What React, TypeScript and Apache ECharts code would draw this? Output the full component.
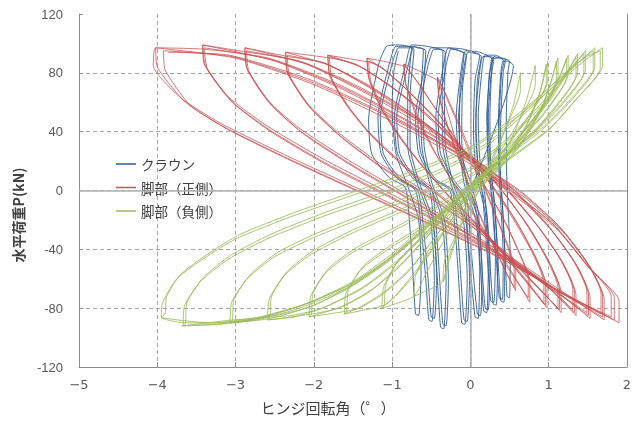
import React, { useEffect, useRef } from 'react';
import * as echarts from 'echarts';

type Pt = [number, number];

const seriesNames = ['クラウン', '脚部（正側）', '脚部（負側）'];
const xAxisTitle = 'ヒンジ回転角（゜）';
const yAxisTitle = '水平荷重P(kN)';
const xRange = [-5, 2];
const yRange = [-120, 120];

// ---- クラウン (crown) loops ----
const blueLoop1: Pt[] = [[0, 0], [0.3, 40], [0.55, 85], [0.48, 88], [0.42, 88], [0.39, 80], [0.36, 50], [0.37, 20], [0.41, -10], [0.44, -40], [0.47, -72], [0.5, -73], [0.51, -45], [0.48, -10], [0.46, 20], [0.46, 50], [0.48, 80], [0.5, 88]];
const blueLoop2a: Pt[] = [[0.4, 90], [0.3, 91], [0.27, 82], [0.23, 50], [0.25, 20], [0.31, -10], [0.35, -45], [0.39, -75], [0.43, -76], [0.44, -45], [0.41, -10], [0.38, 20], [0.39, 50], [0.42, 80], [0.45, 89]];
const blueLoop2b: Pt[] = [[0.36, 90], [0.28, 90], [0.25, 81], [0.21, 50], [0.23, 20], [0.29, -10], [0.33, -45], [0.37, -73], [0.41, -74], [0.42, -45], [0.39, -10], [0.36, 20], [0.37, 50], [0.4, 80], [0.43, 88]];
const blueLoop3a: Pt[] = [[0.32, 92], [0.19, 92], [0.15, 82], [0.1, 50], [0.12, 22], [0.19, -5], [0.24, -40], [0.29, -77], [0.33, -78], [0.35, -45], [0.31, -10], [0.26, 18], [0.25, 50], [0.27, 78], [0.3, 90]];
const blueLoop3b: Pt[] = [[0.25, 91], [0.16, 91], [0.12, 81], [0.07, 50], [0.09, 22], [0.16, -5], [0.21, -40], [0.26, -75], [0.3, -76], [0.32, -45], [0.28, -10], [0.23, 18], [0.22, 50], [0.24, 78], [0.28, 89]];
const blueLoop4a: Pt[] = [[0.12, 94], [-0.06, 95], [-0.11, 85], [-0.18, 50], [-0.15, 25], [-0.03, 5], [0.08, -15], [0.12, -45], [0.17, -82], [0.21, -83], [0.23, -50], [0.19, -15], [0.08, 10], [0.04, 40], [0.06, 75], [0.12, 92]];
const blueLoop4b: Pt[] = [[0.08, 93], [-0.03, 94], [-0.08, 84], [-0.15, 50], [-0.12, 25], [0, 6], [0.1, -14], [0.14, -45], [0.19, -80], [0.23, -81], [0.25, -50], [0.21, -15], [0.11, 10], [0.07, 40], [0.09, 75], [0.14, 91]];
const blueLoop5a: Pt[] = [[-0.08, 96], [-0.28, 97], [-0.34, 86], [-0.44, 50], [-0.41, 25], [-0.25, 8], [-0.08, -5], [-0.02, -40], [0.06, -86], [0.1, -87], [0.12, -55], [0.07, -20], [-0.08, 5], [-0.14, 35], [-0.13, 70], [-0.08, 93]];
const blueLoop5b: Pt[] = [[-0.22, 96], [-0.25, 96], [-0.31, 85], [-0.41, 50], [-0.38, 25], [-0.22, 8], [-0.05, -5], [0.01, -40], [0.09, -84], [0.13, -85], [0.15, -55], [0.1, -20], [-0.05, 5], [-0.11, 35], [-0.1, 70], [-0.05, 92]];
const blueLoop6a: Pt[] = [[-0.3, 97], [-0.5, 97], [-0.57, 86], [-0.7, 50], [-0.66, 25], [-0.48, 8], [-0.26, 0], [-0.19, -30], [-0.15, -60], [-0.11, -90], [-0.07, -91], [-0.04, -60], [-0.09, -20], [-0.25, 5], [-0.35, 30], [-0.36, 65], [-0.35, 95]];
const blueLoop6b: Pt[] = [[-0.45, 96], [-0.47, 96], [-0.54, 85], [-0.67, 50], [-0.63, 25], [-0.45, 8], [-0.23, 0], [-0.16, -30], [-0.12, -60], [-0.08, -88], [-0.04, -89], [-0.01, -60], [-0.06, -20], [-0.22, 5], [-0.32, 30], [-0.33, 65], [-0.32, 94]];
const blueLoop7a: Pt[] = [[-0.55, 98], [-0.75, 99], [-0.82, 87], [-0.97, 50], [-0.93, 25], [-0.73, 8], [-0.52, 0], [-0.46, -30], [-0.42, -62], [-0.38, -93], [-0.34, -94], [-0.31, -62], [-0.36, -20], [-0.52, 5], [-0.62, 30], [-0.63, 65], [-0.6, 96]];
const blueLoop7b: Pt[] = [[-0.68, 97], [-0.72, 98], [-0.79, 86], [-0.94, 50], [-0.9, 25], [-0.7, 8], [-0.49, 0], [-0.43, -30], [-0.39, -62], [-0.35, -91], [-0.31, -92], [-0.28, -62], [-0.33, -20], [-0.49, 5], [-0.59, 30], [-0.6, 65], [-0.57, 95]];
const blueLoop8a: Pt[] = [[-0.78, 98], [-0.95, 98], [-1.03, 87], [-1.18, 50], [-1.14, 25], [-0.93, 8], [-0.7, 0], [-0.62, -30], [-0.57, -60], [-0.53, -88], [-0.49, -89], [-0.46, -60], [-0.51, -20], [-0.68, 5], [-0.8, 30], [-0.8, 65], [-0.75, 97]];
const blueLoop8b: Pt[] = [[-0.9, 97], [-0.92, 97], [-1.0, 86], [-1.15, 50], [-1.11, 25], [-0.9, 8], [-0.67, 0], [-0.59, -30], [-0.54, -60], [-0.5, -86], [-0.46, -87], [-0.43, -60], [-0.48, -20], [-0.65, 5], [-0.77, 30], [-0.77, 65], [-0.72, 96]];
const blueLoop9: Pt[] = [[-0.92, 99], [-1.07, 98], [-1.17, 86], [-1.3, 48], [-1.26, 25], [-1.04, 9], [-0.83, 2], [-0.78, -20], [-0.74, -50], [-0.7, -84], [-0.66, -85], [-0.63, -55], [-0.66, -20], [-0.8, 3], [-0.95, 25], [-1.0, 55], [-0.98, 80], [-0.92, 95]];

// ---- 脚部（正側） loops ----
const redLoop1a: Pt[] = [[0, 0], [-0.42, 77], [-0.4, 64], [-0.3, 45], [-0.15, 22], [0, 0], [0.15, -20], [0.3, -38], [0.45, -55], [0.58, -68], [0.58, -55], [0.5, -40], [0.35, -20], [0.2, 0], [0.05, 20], [-0.1, 40], [-0.25, 58], [-0.35, 70], [-0.42, 77]];
const redLoop1b: Pt[] = [[-0.4, 64], [-0.28, 42], [-0.12, 18], [0.02, -3], [0.18, -24], [0.34, -42], [0.48, -58], [0.56, -66], [0.56, -54], [0.46, -36], [0.3, -14], [0.14, 6], [0, 24], [-0.14, 43], [-0.28, 60], [-0.4, 74]];
const redLoop2a: Pt[] = [[-0.85, 86], [-0.83, 73], [-0.7, 52], [-0.5, 30], [-0.25, 8], [0, -12], [0.25, -33], [0.5, -53], [0.76, -76], [0.76, -62], [0.65, -45], [0.45, -22], [0.2, 2], [-0.1, 28], [-0.4, 52], [-0.65, 72], [-0.85, 86]];
const redLoop2b: Pt[] = [[-0.82, 72], [-0.66, 49], [-0.46, 27], [-0.22, 5], [0.02, -15], [0.28, -36], [0.52, -56], [0.74, -73], [0.74, -60], [0.62, -42], [0.42, -19], [0.16, 5], [-0.14, 31], [-0.44, 55], [-0.68, 74], [-0.83, 84]];
const redLoop3a: Pt[] = [[-1.32, 90], [-1.3, 77], [-1.15, 57], [-0.9, 36], [-0.6, 16], [-0.3, -2], [0, -18], [0.35, -38], [0.7, -60], [0.98, -80], [0.98, -66], [0.85, -47], [0.6, -22], [0.3, 2], [0, 22], [-0.4, 46], [-0.8, 68], [-1.1, 82], [-1.32, 90]];
const redLoop3b: Pt[] = [[-1.29, 75], [-1.12, 54], [-0.86, 33], [-0.56, 13], [-0.26, -5], [0.04, -21], [0.38, -41], [0.72, -62], [0.96, -78], [0.96, -64], [0.82, -44], [0.56, -19], [0.26, 5], [-0.04, 25], [-0.44, 49], [-0.84, 70], [-1.12, 83], [-1.3, 88]];
const redLoop3c: Pt[] = [[-1.27, 74], [-1.08, 52], [-0.82, 31], [-0.52, 11], [-0.22, -7], [0.08, -23], [0.42, -43], [0.74, -64], [0.94, -77], [0.94, -63], [0.79, -42], [0.52, -17], [0.22, 7], [-0.08, 27], [-0.48, 51], [-0.88, 72], [-1.14, 84], [-1.28, 87]];
const redLoop4a: Pt[] = [[-1.82, 92], [-1.8, 79], [-1.6, 60], [-1.3, 40], [-0.9, 20], [-0.45, 0], [0, -20], [0.4, -40], [0.8, -62], [1.16, -83], [1.16, -69], [1.02, -50], [0.75, -25], [0.4, 0], [0, 22], [-0.5, 48], [-1.0, 70], [-1.4, 84], [-1.82, 92]];
const redLoop4b: Pt[] = [[-1.79, 77], [-1.57, 57], [-1.26, 37], [-0.86, 17], [-0.41, -3], [0.04, -23], [0.44, -43], [0.84, -65], [1.14, -81], [1.14, -67], [0.99, -47], [0.71, -22], [0.36, 3], [-0.04, 25], [-0.54, 51], [-1.04, 72], [-1.44, 85], [-1.8, 91]];
const redLoop4c: Pt[] = [[-1.77, 76], [-1.53, 55], [-1.22, 35], [-0.82, 15], [-0.37, -5], [0.08, -25], [0.48, -45], [0.87, -66], [1.12, -80], [1.12, -66], [0.96, -45], [0.68, -20], [0.33, 5], [-0.08, 27], [-0.58, 53], [-1.08, 73], [-1.47, 86], [-1.78, 90]];
const redLoop5a: Pt[] = [[-2.36, 94], [-2.34, 81], [-2.1, 60], [-1.7, 40], [-1.2, 20], [-0.6, 0], [0, -22], [0.5, -44], [1.0, -66], [1.35, -85], [1.35, -71], [1.2, -51], [0.9, -27], [0.5, -2], [0, 20], [-0.6, 45], [-1.2, 67], [-1.8, 85], [-2.36, 94]];
const redLoop5b: Pt[] = [[-2.33, 79], [-2.06, 57], [-1.66, 37], [-1.16, 17], [-0.56, -3], [0.04, -25], [0.54, -47], [1.04, -68], [1.33, -83], [1.33, -69], [1.17, -48], [0.86, -24], [0.46, 1], [-0.04, 23], [-0.64, 48], [-1.24, 69], [-1.84, 86], [-2.34, 92]];
const redLoop5c: Pt[] = [[-2.31, 78], [-2.02, 55], [-1.62, 35], [-1.12, 15], [-0.52, -5], [0.08, -27], [0.58, -49], [1.07, -69], [1.31, -81], [1.31, -67], [1.14, -46], [0.83, -22], [0.43, 3], [-0.08, 25], [-0.68, 50], [-1.28, 71], [-1.88, 87], [-2.32, 91]];
const redLoop6a: Pt[] = [[-2.88, 97], [-2.86, 84], [-2.6, 62], [-2.2, 43], [-1.6, 22], [-0.9, 0], [-0.2, -22], [0.4, -42], [1.0, -64], [1.53, -87], [1.53, -73], [1.38, -53], [1.05, -28], [0.6, -3], [0, 22], [-0.7, 47], [-1.4, 68], [-2.1, 86], [-2.88, 97]];
const redLoop6b: Pt[] = [[-2.85, 82], [-2.56, 59], [-2.16, 40], [-1.56, 19], [-0.86, -3], [-0.16, -25], [0.44, -45], [1.04, -67], [1.51, -85], [1.51, -71], [1.35, -50], [1.01, -25], [0.56, 0], [-0.04, 25], [-0.74, 50], [-1.44, 70], [-2.14, 87], [-2.86, 95]];
const redLoop6c: Pt[] = [[-2.83, 81], [-2.52, 57], [-2.12, 38], [-1.52, 17], [-0.82, -5], [-0.12, -27], [0.48, -47], [1.07, -68], [1.49, -83], [1.49, -69], [1.32, -48], [0.98, -23], [0.53, 2], [-0.08, 27], [-0.78, 52], [-1.48, 72], [-2.18, 88], [-2.84, 94]];
const redLoop7a: Pt[] = [[-3.42, 99], [-3.4, 86], [-3.1, 64], [-2.6, 44], [-1.9, 22], [-1.1, 0], [-0.3, -22], [0.5, -45], [1.1, -66], [1.71, -88], [1.71, -74], [1.55, -54], [1.2, -29], [0.7, -5], [0, 20], [-0.8, 45], [-1.6, 68], [-2.5, 88], [-3.42, 99]];
const redLoop7b: Pt[] = [[-3.38, 84], [-3.06, 61], [-2.56, 41], [-1.86, 19], [-1.06, -3], [-0.26, -25], [0.54, -48], [1.14, -69], [1.69, -86], [1.69, -72], [1.52, -51], [1.16, -26], [0.66, -2], [-0.04, 23], [-0.84, 48], [-1.64, 70], [-2.54, 89], [-3.4, 97]];
const redLoop7c: Pt[] = [[-3.36, 83], [-3.02, 59], [-2.52, 39], [-1.82, 17], [-1.02, -5], [-0.22, -27], [0.58, -50], [1.17, -70], [1.67, -84], [1.67, -70], [1.49, -49], [1.13, -24], [0.63, 0], [-0.08, 25], [-0.88, 50], [-1.68, 72], [-2.58, 90], [-3.38, 96]];
const redLoop8a: Pt[] = [[-4.02, 97], [-4.05, 85], [-3.7, 63], [-3.2, 46], [-2.4, 25], [-1.5, 3], [-0.6, -19], [0.3, -42], [1.1, -67], [1.9, -90], [1.9, -75], [1.54, -54], [1.12, -27], [0.6, -5], [0, 18], [-1.0, 47], [-2.0, 72], [-3.0, 90], [-4.02, 97]];
const redLoop8b: Pt[] = [[-4.0, 84], [-3.64, 60], [-3.14, 43], [-2.34, 22], [-1.44, 0], [-0.54, -22], [0.36, -45], [1.14, -69], [1.84, -88], [1.84, -73], [1.5, -51], [1.08, -24], [0.56, -2], [-0.04, 21], [-1.04, 50], [-2.04, 74], [-3.04, 91], [-3.92, 95]];
const redLoop8c: Pt[] = [[-3.9, 82], [-3.58, 58], [-3.08, 41], [-2.28, 20], [-1.38, -2], [-0.48, -24], [0.42, -47], [1.18, -70], [1.8, -86], [1.8, -72], [1.46, -49], [1.04, -22], [0.52, 0], [-0.08, 23], [-1.08, 52], [-2.08, 76], [-3.08, 92], [-3.86, 94]];

// ---- 脚部（負側） loops ----
const greenLoop1: Pt[] = [[0, 0], [-0.35, -62], [-0.33, -48], [-0.18, -30], [0, -12], [0.2, 10], [0.4, 35], [0.55, 58], [0.64, 80], [0.64, 68], [0.48, 46], [0.28, 22], [0.08, 0], [-0.12, -24], [-0.28, -46], [-0.35, -62]];
const greenLoop2: Pt[] = [[-0.72, -72], [-0.7, -58], [-0.55, -42], [-0.3, -25], [0, -8], [0.3, 14], [0.55, 38], [0.72, 62], [0.83, 85], [0.83, 72], [0.65, 50], [0.4, 28], [0.12, 6], [-0.15, -16], [-0.4, -40], [-0.6, -60], [-0.72, -72]];
const greenLoop3a: Pt[] = [[-1.13, -80], [-1.11, -66], [-0.95, -50], [-0.65, -34], [-0.3, -18], [0.05, -2], [0.4, 18], [0.7, 42], [0.88, 65], [0.99, 88], [0.99, 75], [0.8, 55], [0.5, 33], [0.2, 12], [-0.1, -8], [-0.4, -33], [-0.7, -55], [-0.95, -71], [-1.13, -80]];
const greenLoop3b: Pt[] = [[-1.1, -78], [-1.08, -64], [-0.91, -47], [-0.61, -31], [-0.26, -15], [0.09, 2], [0.43, 21], [0.72, 45], [0.89, 67], [0.97, 86], [0.97, 73], [0.77, 52], [0.47, 30], [0.17, 9], [-0.13, -11], [-0.43, -36], [-0.72, -58], [-0.96, -72], [-1.1, -78]];
const greenLoop4a: Pt[] = [[-1.61, -84], [-1.59, -70], [-1.4, -54], [-1.05, -40], [-0.6, -25], [-0.15, -8], [0.25, 8], [0.6, 28], [0.88, 52], [1.02, 72], [1.12, 90], [1.12, 77], [0.9, 56], [0.6, 35], [0.25, 14], [-0.05, -3], [-0.4, -28], [-0.75, -52], [-1.1, -69], [-1.4, -79], [-1.61, -84]];
const greenLoop4b: Pt[] = [[-1.58, -82], [-1.56, -68], [-1.36, -51], [-1.01, -37], [-0.56, -22], [-0.11, -5], [0.29, 11], [0.63, 31], [0.9, 55], [1.03, 74], [1.1, 88], [1.1, 75], [0.87, 53], [0.56, 32], [0.21, 11], [-0.09, -6], [-0.44, -31], [-0.79, -55], [-1.13, -71], [-1.42, -80], [-1.58, -82]];
const greenLoop5a: Pt[] = [[-2.06, -86], [-2.04, -72], [-1.85, -56], [-1.5, -42], [-1.0, -28], [-0.45, -12], [0, 2], [0.4, 20], [0.75, 42], [1.02, 63], [1.15, 78], [1.25, 92], [1.25, 79], [1.0, 57], [0.7, 38], [0.3, 17], [-0.05, 0], [-0.45, -25], [-0.85, -48], [-1.25, -67], [-1.65, -79], [-2.06, -86]];
const greenLoop5b: Pt[] = [[-2.03, -84], [-2.01, -70], [-1.81, -53], [-1.46, -39], [-0.96, -25], [-0.41, -9], [0.04, 5], [0.44, 23], [0.78, 45], [1.04, 66], [1.16, 80], [1.23, 90], [1.23, 77], [0.97, 54], [0.66, 35], [0.26, 14], [-0.09, -3], [-0.49, -28], [-0.89, -51], [-1.29, -69], [-1.68, -80], [-2.03, -84]];
const greenLoop6a: Pt[] = [[-2.59, -88], [-2.57, -74], [-2.38, -58], [-2.05, -44], [-1.55, -30], [-0.9, -15], [-0.3, 0], [0.2, 16], [0.65, 38], [1.0, 60], [1.22, 78], [1.37, 93], [1.37, 80], [1.1, 58], [0.8, 40], [0.35, 20], [0, 3], [-0.45, -22], [-0.9, -46], [-1.35, -65], [-1.85, -79], [-2.25, -86], [-2.59, -88]];
const greenLoop6b: Pt[] = [[-2.56, -86], [-2.54, -72], [-2.34, -55], [-2.01, -41], [-1.51, -27], [-0.86, -12], [-0.26, 3], [0.24, 19], [0.68, 41], [1.02, 63], [1.23, 80], [1.35, 91], [1.35, 78], [1.07, 55], [0.76, 37], [0.31, 17], [-0.04, 0], [-0.49, -25], [-0.94, -49], [-1.39, -67], [-1.89, -80], [-2.28, -85], [-2.56, -86]];
const greenLoop7a: Pt[] = [[-3.07, -90], [-3.05, -76], [-2.85, -60], [-2.5, -45], [-2.0, -32], [-1.3, -17], [-0.6, -2], [0, 14], [0.5, 35], [0.95, 60], [1.25, 80], [1.47, 95], [1.47, 82], [1.18, 60], [0.85, 42], [0.4, 22], [0, 4], [-0.5, -22], [-1.0, -45], [-1.5, -64], [-2.0, -78], [-2.55, -87], [-3.07, -90]];
const greenLoop7b: Pt[] = [[-3.04, -88], [-3.02, -74], [-2.81, -57], [-2.46, -42], [-1.96, -29], [-1.26, -14], [-0.56, 1], [0.04, 17], [0.53, 38], [0.97, 63], [1.26, 82], [1.45, 93], [1.45, 80], [1.15, 57], [0.81, 39], [0.36, 19], [-0.04, 1], [-0.54, -25], [-1.04, -48], [-1.54, -66], [-2.04, -79], [-2.58, -86], [-3.04, -88]];
const greenLoop8a: Pt[] = [[-3.67, -92], [-3.65, -78], [-3.45, -62], [-3.1, -47], [-2.6, -33], [-1.9, -18], [-1.1, -3], [-0.4, 12], [0.2, 30], [0.75, 55], [1.2, 78], [1.59, 97], [1.59, 84], [1.28, 62], [0.95, 44], [0.45, 24], [0, 5], [-0.5, -20], [-1.0, -43], [-1.5, -62], [-2.1, -77], [-2.7, -87], [-3.2, -91], [-3.67, -92]];
const greenLoop8b: Pt[] = [[-3.64, -90], [-3.62, -76], [-3.41, -59], [-3.06, -44], [-2.56, -30], [-1.86, -15], [-1.06, 0], [-0.36, 15], [0.23, 33], [0.77, 58], [1.21, 80], [1.57, 95], [1.57, 82], [1.25, 59], [0.91, 41], [0.41, 21], [-0.04, 2], [-0.54, -23], [-1.04, -46], [-1.54, -64], [-2.14, -78], [-2.74, -87], [-3.24, -90], [-3.64, -90]];
const greenLoop9a: Pt[] = [[-3.95, -86], [-3.93, -76], [-3.75, -60], [-3.4, -46], [-3.0, -33], [-2.3, -18], [-1.6, -5], [-0.8, 10], [0, 28], [0.6, 50], [1.1, 72], [1.45, 88], [1.69, 97], [1.69, 85], [1.35, 62], [1.03, 43], [0.5, 22], [0, 2], [-0.5, -22], [-1.0, -45], [-1.5, -63], [-2.1, -77], [-2.7, -86], [-3.3, -90], [-3.95, -86]];
const greenLoop9b: Pt[] = [[-3.9, -84], [-3.88, -72], [-3.7, -57], [-3.35, -43], [-2.95, -30], [-2.25, -15], [-1.55, -2], [-0.75, 13], [0.05, 31], [0.63, 53], [1.12, 75], [1.45, 90], [1.66, 95], [1.66, 83], [1.32, 60], [1.0, 41], [0.47, 20], [-0.03, 0], [-0.53, -24], [-1.03, -47], [-1.53, -65], [-2.13, -79], [-2.73, -88], [-3.3, -91], [-3.7, -92]];

const crownData: Pt[] = ([] as Pt[]).concat(blueLoop1, blueLoop2a, blueLoop2b, blueLoop3a, blueLoop3b, blueLoop4a, blueLoop4b, blueLoop5a, blueLoop5b, blueLoop6a, blueLoop6b, blueLoop7a, blueLoop7b, blueLoop8a, blueLoop8b, blueLoop9);
const footPosData: Pt[] = ([] as Pt[]).concat(redLoop1a, redLoop1b, redLoop2a, redLoop2b, redLoop3a, redLoop3b, redLoop3c, redLoop4a, redLoop4b, redLoop4c, redLoop5a, redLoop5b, redLoop5c, redLoop6a, redLoop6b, redLoop6c, redLoop7a, redLoop7b, redLoop7c, redLoop8a, redLoop8b, redLoop8c);
const footNegData: Pt[] = ([] as Pt[]).concat(greenLoop1, greenLoop2, greenLoop3a, greenLoop3b, greenLoop4a, greenLoop4b, greenLoop5a, greenLoop5b, greenLoop6a, greenLoop6b, greenLoop7a, greenLoop7b, greenLoop8a, greenLoop8b, greenLoop9a, greenLoop9b);

const colors = ['#2C5A98', '#C9504F', '#9BBB59'];

export default function App() {
  const ref = useRef<HTMLDivElement>(null);
  useEffect(() => {
    if (!ref.current) return;
    const chart = echarts.init(ref.current, undefined, { renderer: 'svg' });
    const axisGrey = '#8C8C8C';
    const gridGrey = '#A6A6A6';
    const mkLine = (name: string, data: Pt[], color: string, opacity: number) => ({
      name,
      type: 'line',
      data,
      symbol: 'none',
      smooth: 0.2,
      z: 3,
      lineStyle: { color, width: 1, opacity },
      itemStyle: { color },
    });
    chart.setOption({
      animation: false,
      grid: { left: 79, right: 2, top: 14, bottom: 54, containLabel: false },
      legend: {
        data: seriesNames,
        orient: 'vertical',
        left: 111,
        top: 150,
        icon: 'rect',
        itemWidth: 20,
        itemHeight: 1.5,
        itemGap: 5.5,
        textStyle: { fontSize: 13.5, color: '#404040', fontFamily: 'Noto Sans CJK JP', lineHeight: 18 },
      },
      xAxis: [
        {
          type: 'value',
          min: xRange[0],
          max: xRange[1],
          interval: 1,
          axisLine: { show: true, onZero: false, lineStyle: { color: axisGrey, width: 1 } },
          axisTick: { show: true, inside: true, length: 5, lineStyle: { color: axisGrey } },
          axisLabel: {
            margin: 11,
            fontSize: 13,
            color: '#595959',
            fontFamily: 'DejaVu Sans',
            formatter: (v: number) => String(v).replace('-', '−'),
          },
          splitLine: { show: true, showMinLine: false, showMaxLine: false, lineStyle: { color: gridGrey, type: [4, 3], width: 1 } },
        },
      ],
      yAxis: [
        {
          type: 'value',
          min: yRange[0],
          max: yRange[1],
          interval: 40,
          axisLine: { show: true, onZero: false, lineStyle: { color: axisGrey, width: 1 } },
          axisTick: { show: true, inside: true, length: 4, lineStyle: { color: axisGrey } },
          axisLabel: { margin: 16, fontSize: 13, color: '#595959', fontFamily: 'Liberation Sans' },
          splitLine: { show: true, showMinLine: false, showMaxLine: false, lineStyle: { color: gridGrey, type: [4, 3], width: 1 } },
        },
        {
          type: 'value',
          position: 'right',
          min: yRange[0],
          max: yRange[1],
          interval: 40,
          axisLine: { show: true, onZero: false, lineStyle: { color: axisGrey, width: 1 } },
          axisTick: { show: false },
          axisLabel: { show: false },
          splitLine: { show: false },
        },
      ],
      series: [
        {
          name: '_zero',
          type: 'line',
          data: [],
          z: 1,
          silent: true,
          markLine: {
            silent: true,
            symbol: 'none',
            label: { show: false },
            lineStyle: { color: '#B0B0B0', type: 'solid', width: 1.5 },
            data: [{ xAxis: 0 }, { yAxis: 0 }],
          },
        },
        mkLine(seriesNames[0], crownData, colors[0], 0.9),
        mkLine(seriesNames[1], footPosData, colors[1], 0.78),
        mkLine(seriesNames[2], footNegData, colors[2], 0.85),
      ],
      graphic: [
        {
          type: 'text',
          x: 328,
          y: 407,
          style: {
            text: xAxisTitle,
            fontSize: 15,
            fill: '#404040',
            fontFamily: 'Noto Sans CJK JP',
            textAlign: 'center',
            textVerticalAlign: 'middle',
          },
        },
        {
          type: 'text',
          x: 18,
          y: 215,
          rotation: Math.PI / 2,
          style: {
            text: yAxisTitle,
            fontSize: 14,
            fontWeight: 'bold',
            fill: '#404040',
            fontFamily: 'Noto Sans CJK JP',
            textAlign: 'center',
            textVerticalAlign: 'middle',
          },
        },
      ],
    });
    return () => chart.dispose();
  }, []);
  return <div ref={ref} style={{ position: 'fixed', left: 0, top: 0, width: 634, height: 421 }} />;
}
